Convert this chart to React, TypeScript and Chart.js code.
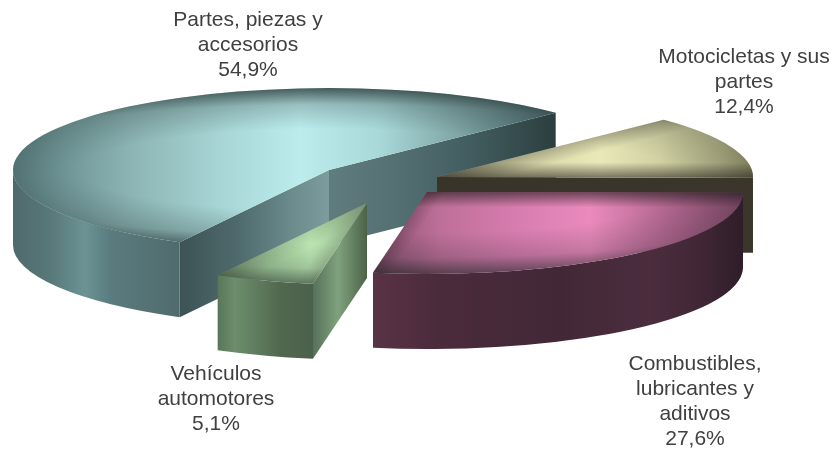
import React, { useEffect, useRef } from "react";
import { Chart, registerables } from "chart.js";

Chart.register(...registerables);

// ---- data
const categories = [
  ["Partes, piezas y", "accesorios"],
  ["Motocicletas y sus", "partes"],
  ["Combustibles,", "lubricantes y", "aditivos"],
  ["Vehículos", "automotores"],
];
const shares = [54.9, 12.4, 27.6, 5.1];
const baseColors = ["#8fbcbd", "#c9c99c", "#c26f9c", "#8db287"];

// ---- layout and style
const ROTATION = 208.2;
const RX = 316;
const RY = 82;
const DEPTH = 75;
const FONT = '21px "Liberation Sans", Arial, sans-serif';
const LINE_H = 25;
const apexShift = [
  [-87, -54.5],
  [21, -47.5],
  [11, -32.5],
  [-49, -21.5],
];
const labelAnchor = [
  [248, 26],
  [744, 63],
  [695, 370],
  [216, 380],
];
type Stops = [number, string][];
const topStops: Stops[] = [
  [[12, "#587a7b"], [60, "#6f9596"], [130, "#8cb4b4"], [230, "#aad8d8"], [300, "#bcecec"], [380, "#a8d8d8"], [450, "#84abab"], [500, "#688b8c"], [557, "#48646a"]],
  [[437, "#b0b088"], [530, "#d8d8aa"], [600, "#e8e8b8"], [660, "#d0d0a2"], [720, "#a6a67e"], [754, "#85855f"]],
  [[371, "#8a5070"], [440, "#bd6f98"], [520, "#d87db0"], [590, "#ea8abd"], [660, "#b86a94"], [743, "#7c4766"]],
  [[217, "#7b9c76"], [265, "#a3cc9c"], [310, "#bde8b4"], [367, "#8aac84"]],
];
const rimAlpha = [0.7, 0.5, 0.6, 0.55];
const edgeShade = [
  [0, 0],
  [0.25, 0.55],
  [0.6, 0.2],
  [0.1, 0.1],
];
const outerWallStops: Stops[] = [
  [[12, "#4f696b"], [50, "#587879"], [85, "#6c9394"], [110, "#5a7c7e"], [180, "#506a6d"]],
  [[437, "#38342a"], [754, "#38342a"]],
  [[371, "#5a3246"], [440, "#4a2b3b"], [560, "#422837"], [650, "#4b2d3e"], [700, "#412736"], [743, "#2f1d29"]],
  [[217, "#587558"], [235, "#6c8e6c"], [280, "#51684f"], [313, "#4b604a"]],
];
const startFaceStops: Stops[] = [
  [[180, "#3d5355"], [240, "#4f6b6e"], [290, "#6a8a8c"], [329, "#7e9c9e"]],
  [],
  [],
  [[313, "#56715a"], [338, "#7fa27d"], [367, "#4c6247"]],
];
const endFaceStops: Stops[] = [
  [[329, "#5f7c7e"], [400, "#546f72"], [470, "#425d5f"], [557, "#2c3e3f"]],
  [[437, "#38342a"], [754, "#3a362b"]],
  [],
  [],
];

function hGrad(ctx: CanvasRenderingContext2D, stops: Stops) {
  const x0 = stops[0][0];
  const x1 = stops[stops.length - 1][0];
  const g = ctx.createLinearGradient(x0, 0, x1, 0);
  stops.forEach(([x, c]) => g.addColorStop((x - x0) / (x1 - x0), c));
  return g;
}

function radialFace(ctx: CanvasRenderingContext2D, ax: number, ay: number, a: number, fill: CanvasGradient) {
  const bx = ax + RX * Math.cos(a);
  const by = ay + RY * Math.sin(a);
  ctx.beginPath();
  ctx.moveTo(ax, ay);
  ctx.lineTo(bx, by);
  ctx.lineTo(bx, by + DEPTH);
  ctx.lineTo(ax, ay + DEPTH);
  ctx.closePath();
  ctx.fillStyle = fill;
  ctx.fill();
}

function sector(ctx: CanvasRenderingContext2D, ax: number, ay: number, s: number, e: number) {
  ctx.beginPath();
  ctx.moveTo(ax, ay);
  ctx.ellipse(ax, ay, RX, RY, 0, s, e);
  ctx.closePath();
}

const pie3d = {
  id: "pie3d",
  beforeDatasetsDraw(chart: any) {
    const ctx: CanvasRenderingContext2D = chart.ctx;
    const arcs = chart.getDatasetMeta(0).data;
    arcs.forEach((arc: any, i: number) => {
      const ax = arc.x + apexShift[i][0];
      const ay = arc.y + apexShift[i][1];
      const s = arc.startAngle;
      const e = arc.endAngle;
      ctx.save();
      if (Math.sin(s - Math.PI / 2) > 0 && startFaceStops[i].length)
        radialFace(ctx, ax, ay, s, hGrad(ctx, startFaceStops[i]));
      if (Math.sin(e + Math.PI / 2) > 0 && endFaceStops[i].length)
        radialFace(ctx, ax, ay, e, hGrad(ctx, endFaceStops[i]));
      const turn = 2 * Math.PI;
      for (let k = -1; k <= 2; k++) {
        const a0 = Math.max(s, k * turn);
        const a1 = Math.min(e, k * turn + Math.PI);
        if (a1 > a0) {
          ctx.beginPath();
          ctx.ellipse(ax, ay, RX, RY, 0, a0, a1);
          ctx.ellipse(ax, ay + DEPTH, RX, RY, 0, a1, a0, true);
          ctx.closePath();
          ctx.fillStyle = hGrad(ctx, outerWallStops[i]);
          ctx.fill();
        }
      }
      sector(ctx, ax, ay, s, e);
      ctx.fillStyle = hGrad(ctx, topStops[i]);
      ctx.fill();
      ctx.clip();
      // rim bevel: an ellipse wider than the pie, so it only darkens the far and near rims
      ctx.save();
      ctx.translate(ax, ay);
      ctx.scale((RX * 1.55) / RY, 1);
      const r = ctx.createRadialGradient(0, 0, 0, 0, 0, RY);
      r.addColorStop(0.5, "rgba(20,30,30,0)");
      r.addColorStop(0.8, `rgba(20,30,30,${rimAlpha[i] * 0.3})`);
      r.addColorStop(1, `rgba(20,30,30,${rimAlpha[i]})`);
      ctx.fillStyle = r;
      ctx.fillRect(-RY * 1.2, -RY * 1.2, RY * 2.4, RY * 2.4);
      ctx.restore();
      [s, e].forEach((a, k) => {
        const shade = edgeShade[i][k];
        if (shade <= 0) return;
        const sign = k === 0 ? 1 : -1;
        const nx = -Math.sin(a) * sign * RY;
        const ny = Math.cos(a) * sign * RX;
        const len = Math.hypot(nx, ny);
        const w = 15;
        const g = ctx.createLinearGradient(ax, ay, ax + (nx / len) * w, ay + (ny / len) * w);
        g.addColorStop(0, `rgba(30,25,25,${shade})`);
        g.addColorStop(1, "rgba(30,25,25,0)");
        ctx.fillStyle = g;
        ctx.fillRect(0, 0, chart.width, chart.height);
      });
      ctx.restore();
    });
    return false;
  },
  afterDraw(chart: any) {
    const ctx: CanvasRenderingContext2D = chart.ctx;
    ctx.save();
    ctx.font = FONT;
    ctx.fillStyle = "#404040";
    ctx.textAlign = "center";
    ctx.textBaseline = "alphabetic";
    categories.forEach((lines, i) => {
      const all = [...lines, `${shares[i].toFixed(1).replace(".", ",")}%`];
      all.forEach((t, k) => ctx.fillText(t, labelAnchor[i][0], labelAnchor[i][1] + k * LINE_H));
    });
    ctx.restore();
  },
};

export default function App() {
  const ref = useRef<HTMLCanvasElement>(null);
  useEffect(() => {
    document.body.style.margin = "0";
    const chart = new Chart(ref.current!, {
      type: "pie",
      data: {
        labels: categories.map((c) => c.join(" ")),
        datasets: [{ data: shares, backgroundColor: baseColors, borderWidth: 0 }],
      },
      options: {
        responsive: false,
        animation: false,
        rotation: ROTATION,
        plugins: { legend: { display: false }, tooltip: { enabled: false } },
      },
      plugins: [pie3d],
    } as any);
    return () => chart.destroy();
  }, []);
  return <canvas ref={ref} width={832} height={449} style={{ display: "block", background: "#fff" }} />;
}
